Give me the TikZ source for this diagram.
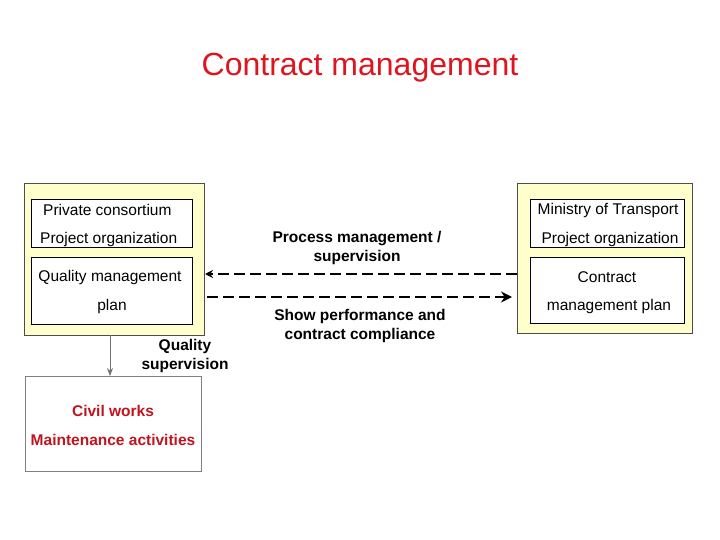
\documentclass[tikz,border=0pt]{standalone}
\usepackage{fontspec}
\setmainfont{Liberation Sans}
\usetikzlibrary{arrows.meta}
\definecolor{ybg}{HTML}{FFFFCC}
\definecolor{tred}{HTML}{E0141E}
\definecolor{dred}{HTML}{C0141E}
\begin{document}
\begin{tikzpicture}[x=1pt,y=-1pt,
 outer/.style={draw=black!70,fill=ybg,line width=0.8pt},
 inner/.style={draw=black,fill=white,line width=0.6pt},
 txt/.style={font=\fontsize{15.5}{16}\selectfont,inner sep=0},
 btxt/.style={font=\fontsize{15.5}{19.5}\selectfont\bfseries,align=center,inner sep=0},
 dashline/.style={line width=2.6pt,dash pattern=on 11pt off 5pt}]
\useasboundingbox (0,0) rectangle (720,540);
\node[font=\fontsize{32}{36}\selectfont,text=tred] (title) at (360,68) {Contract management};
% left
\draw[outer] (24,183) rectangle (204,335);
\draw[inner] (31,199) rectangle (192,247);
\draw[inner] (31,257) rectangle (192,324);
\node[txt,anchor=west] (l1) at (43,210) {Private consortium};
\node[txt,anchor=west] (l2) at (40,239) {Project organization};
\node[txt] (l3) at (110,277) {Quality management};
\node[txt] (l4) at (112,306) {plan};
% right
\draw[outer] (517,183) rectangle (692,333);
\draw[inner] (530,199) rectangle (684,247);
\draw[inner] (530,257) rectangle (684,323);
\node[txt] (r1) at (608,210) {Ministry of Transport};
\node[txt] (r2) at (610,239) {Project organization};
\node[txt] (r3) at (607,277) {Contract};
\node[txt] (r4) at (609,306) {management plan};
% bottom box
\draw[draw=black!50,fill=white,line width=0.8pt] (25,376) rectangle (201,471);
\node[btxt,text=dred,font=\fontsize{15.5}{29}\selectfont\bfseries] (b) at (113,425) {Civil works\\Maintenance activities};
\coordinate (la) at (110,335); \coordinate (lb) at (110,376);
\draw[black!55,line width=0.8pt,-{Stealth[length=8pt,width=6pt]}] (la) -- (lb);
\node[btxt] (qs) at (185,356) {Quality\\supervision};
% arrows
\coordinate (a1s) at (517,274); \coordinate (a1e) at (205,274);
\coordinate (a2s) at (207,297); \coordinate (a2e) at (512,297);
\draw[dashline,-{Stealth[length=8pt,width=8pt]}] (a1s) -- (a1e);
\draw[dashline,-{Stealth[length=11pt,width=11pt]}] (a2s) -- (a2e);
\node[btxt] (pm) at (357,248) {Process management /\\supervision};
\node[btxt] (sp) at (360,326) {Show performance and\\contract compliance};
\end{tikzpicture}
\end{document}
